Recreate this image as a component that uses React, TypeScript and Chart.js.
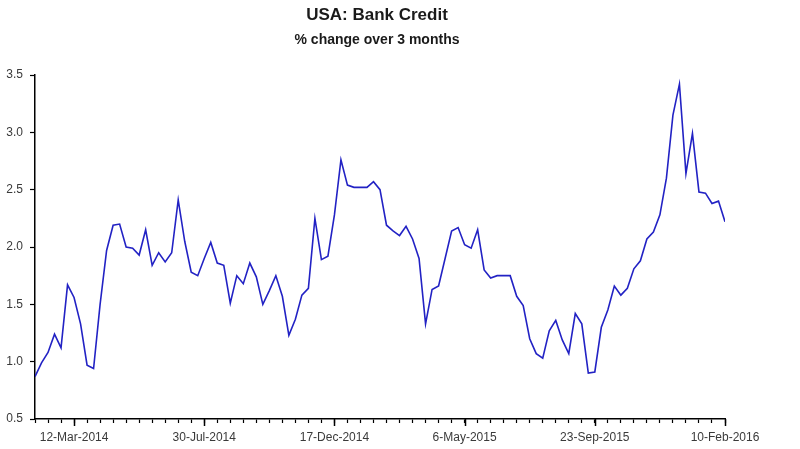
import React, { useEffect, useRef } from "react";
import { Chart, registerables } from "chart.js";

Chart.register(...registerables);

const TITLE = "USA: Bank Credit";
const SUBTITLE = "% change over 3 months";

// weekly observations, 29-Jan-2014 .. 10-Feb-2016 (index = week number)
const BANK_CREDIT_3M: number[] = [
  0.87, 0.99, 1.08, 1.24, 1.12, 1.67, 1.56, 1.33, 0.97, 0.94,
  1.5, 1.97, 2.19, 2.2, 2.0, 1.99, 1.93, 2.15, 1.84, 1.95,
  1.87, 1.95, 2.41, 2.05, 1.78, 1.75, 1.9, 2.04, 1.86, 1.84,
  1.51, 1.75, 1.68, 1.86, 1.74, 1.5, 1.62, 1.75, 1.57, 1.23,
  1.37, 1.58, 1.64, 2.25, 1.89, 1.92, 2.28, 2.76, 2.54, 2.52,
  2.52, 2.52, 2.57, 2.5, 2.19, 2.14, 2.1, 2.18, 2.07, 1.9,
  1.33, 1.63, 1.66, 1.9, 2.14, 2.17, 2.02, 1.99, 2.15, 1.8,
  1.73, 1.75, 1.75, 1.75, 1.57, 1.49, 1.2, 1.07, 1.03, 1.27,
  1.36, 1.19, 1.07, 1.42, 1.33, 0.9, 0.91, 1.3, 1.45, 1.66,
  1.58, 1.64, 1.81, 1.88, 2.07, 2.13, 2.28, 2.6, 3.15, 3.42,
  2.64, 2.99, 2.48, 2.47, 2.38, 2.4, 2.22,
];

const TICK_LABELS = ["12-Mar-2014", "30-Jul-2014", "17-Dec-2014", "6-May-2015", "23-Sep-2015", "10-Feb-2016"];
const TICK_WEEK_INDEX = [6, 26, 46, 66, 86, 106];

const Y_MIN = 0.5;
const Y_MAX = 3.5;
const Y_STEP = 0.5;

export default function App() {
  const canvasRef = useRef<HTMLCanvasElement | null>(null);

  useEffect(() => {
    document.body.style.margin = "0";
    const canvas = canvasRef.current;
    if (!canvas) return;

    const overlay = {
      id: "overlay",
      afterDraw(chart: any) {
        const ctx = chart.ctx;
        const xs = chart.scales.x;
        const area = chart.chartArea;
        ctx.save();
        // longer major tick marks
        ctx.strokeStyle = "#000";
        ctx.lineWidth = 1.5;
        TICK_WEEK_INDEX.forEach((w) => {
          const px = Math.round(xs.getPixelForValue(w)) + 0.5;
          ctx.beginPath();
          ctx.moveTo(px, area.bottom);
          ctx.lineTo(px, area.bottom + 7);
          ctx.stroke();
        });
        // titles
        const cx = (area.left + area.right) / 2 - 3;
        ctx.fillStyle = "#1a1a1a";
        ctx.textAlign = "center";
        ctx.textBaseline = "middle";
        ctx.font = "bold 17px 'Liberation Sans', Arial, sans-serif";
        ctx.fillText(TITLE, cx, 15);
        ctx.font = "bold 14px 'Liberation Sans', Arial, sans-serif";
        ctx.fillText(SUBTITLE, cx, 40);
        ctx.restore();
      },
    };

    const data = BANK_CREDIT_3M.map((v, i) => ({ x: i, y: v }));

    const chart = new Chart(canvas, {
      type: "line",
      data: {
        datasets: [
          {
            data,
            borderColor: "#2222c4",
            borderWidth: 1.6,
            pointRadius: 0,
            tension: 0,
            fill: false,
          },
        ],
      },
      options: {
        animation: false,
        responsive: false,
        devicePixelRatio: 1,
        layout: { padding: { top: 75, right: 75, bottom: 0, left: 0 } },
        plugins: {
          legend: { display: false },
          title: { display: false },
          tooltip: { enabled: false },
        },
        scales: {
          x: {
            type: "linear",
            min: 0,
            max: BANK_CREDIT_3M.length - 1,
            afterFit: (s: any) => {
              s.height = 30;
            },
            border: { display: true, color: "#000", width: 1.5 },
            grid: {
              display: true,
              drawOnChartArea: false,
              drawTicks: true,
              tickLength: 4,
              tickColor: "#000",
              tickWidth: 1.2,
            },
            ticks: {
              stepSize: 2,
              maxTicksLimit: 200,
              autoSkip: false,
              maxRotation: 0,
              minRotation: 0,
              padding: 7,
              color: "#3a3a3a",
              font: { family: "'Liberation Sans', Arial, sans-serif", size: 12 },
              callback: (v: any) => {
                const k = TICK_WEEK_INDEX.indexOf(Number(v));
                return k >= 0 ? TICK_LABELS[k] : "";
              },
            },
          },
          y: {
            min: Y_MIN,
            max: Y_MAX,
            afterFit: (s: any) => {
              s.width = 35;
            },
            border: { display: true, color: "#000", width: 1.5 },
            grid: {
              display: true,
              drawOnChartArea: false,
              drawTicks: true,
              tickLength: 5,
              tickColor: "#000",
              tickWidth: 1.2,
            },
            ticks: {
              stepSize: Y_STEP,
              padding: 7,
              color: "#3a3a3a",
              font: { family: "'Liberation Sans', Arial, sans-serif", size: 12 },
              callback: (v: any) => Number(v).toFixed(1),
            },
          },
        },
      },
      plugins: [overlay],
    });

    return () => chart.destroy();
  }, []);

  return (
    <div style={{ width: 800, height: 449, background: "#fff" }}>
      <canvas ref={canvasRef} width={800} height={449} />
    </div>
  );
}
